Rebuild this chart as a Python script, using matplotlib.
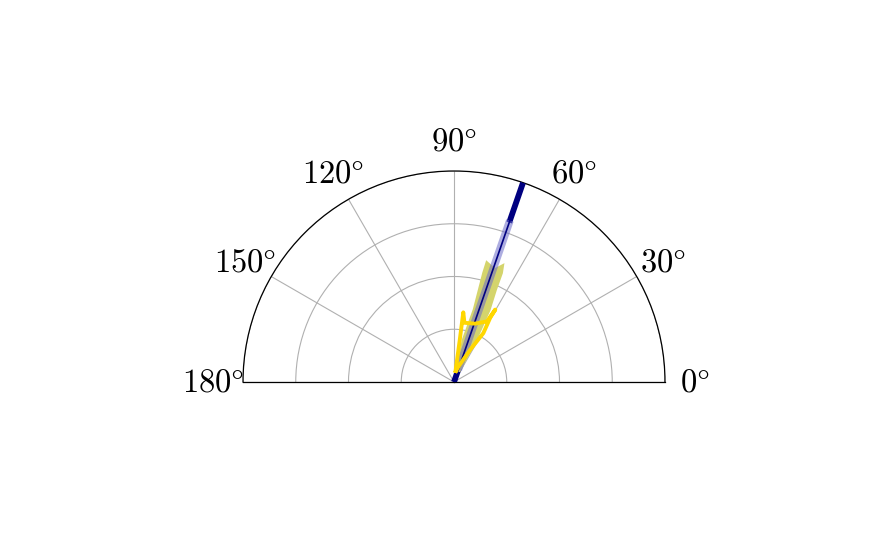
import numpy as np
import matplotlib
matplotlib.use('Agg')
import matplotlib.pyplot as plt

plt.rcParams['mathtext.fontset'] = 'cm'

# mean direction (degrees) and radial extents
mean_angle = 70.9
thick_r = [0.80, 1.0]
band_r = [0.06, 0.81]
thin_r = [0.0, 0.81]
base_r = [0.0, 0.07]

# khaki spread region (theta deg, r)
khaki_theta = [80.5, 79.5, 75.5, 75.5, 75.2, 70.2, 67.0, 65.8, 65.0, 63.0, 61.0, 58.0]
khaki_r = [0.049, 0.205, 0.357, 0.536, 0.597, 0.574, 0.612, 0.565, 0.48, 0.38, 0.224, 0.056]

# gold trace (theta deg, r)
gold_theta = [82.0, 82.2, 82.4, 80.0, 70.1, 61.5, 60.3, 60.6, 59.0, 63.4, 74.0, 79.7]
gold_r = [0.053, 0.20, 0.333, 0.285, 0.294, 0.327, 0.395, 0.35, 0.27, 0.17, 0.076, 0.053]

tick_angles = [0, 30, 60, 90, 120, 150, 180]
tick_labels = [r'$%d\degree$' % a for a in tick_angles]

fig = plt.figure(figsize=(8.85, 5.47), dpi=100)
# half-polar wedge only fills half of the axes box, so box is twice the wedge
ax = fig.add_axes([34/885, (547-487.5)/547, 840/885, 422/547], projection='polar')
ax.set_thetamin(0)
ax.set_thetamax(180)
ax.set_ylim(0, 1)
ax.set_rticks([0.25, 0.5, 0.75, 1.0])
ax.set_yticklabels([])
ax.set_thetagrids(tick_angles, tick_labels, fontsize=23.5)
ax.tick_params(axis='x', pad=11)
ax.grid(True, color='#b0b0b0', linewidth=0.8)
for sp in ax.spines.values():
    sp.set_linewidth(0.9)

th = np.deg2rad(mean_angle)
ax.plot([th, th], thick_r, color='navy', linewidth=4.2, solid_capstyle='butt', zorder=3)
ax.plot([th, th], base_r, color='navy', linewidth=4.2, solid_capstyle='butt', zorder=3)

ax.fill(np.deg2rad(khaki_theta), khaki_r, color='#d4d46c', linewidth=0, zorder=4)

ax.plot([th, th], band_r, color='#6a6ac8', alpha=0.55, linewidth=5.6, solid_capstyle='butt', zorder=5)
ax.plot([th, th], thin_r, color='navy', linewidth=1.2, zorder=6)

ax.plot(np.deg2rad(gold_theta), gold_r, color='gold', linewidth=2.8, zorder=7)

fig.savefig('out.png', dpi=100)
